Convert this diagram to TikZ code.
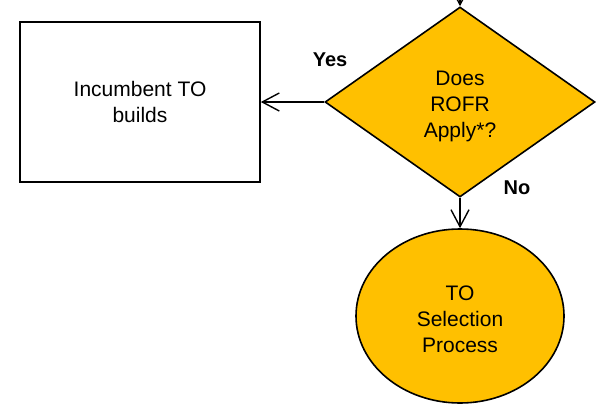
\documentclass[tikz,border=0pt]{standalone}
\usepackage{fontspec}
\setmainfont{Liberation Sans}
\usetikzlibrary{shapes.geometric,arrows.meta}
\definecolor{gold}{HTML}{FFC000}
\tikzset{
  txt/.style={align=center,font=\fontsize{21}{26}\selectfont},
  box/.style={draw,line width=1.6pt,inner sep=0pt,minimum width=240pt,minimum height=160pt,txt},
  decision/.style={diamond,draw,line width=1.6pt,fill=gold,inner sep=0pt,minimum width=270pt,minimum height=190pt,aspect=1.42},
  terminal/.style={ellipse,draw,line width=1.6pt,fill=gold,inner sep=0pt,minimum width=208pt,minimum height=174pt},
  conn/.style={line width=1.4pt,-{Straight Barb[length=17pt,width=18pt,line width=1.4pt]}},
  lbl/.style={font=\bfseries\fontsize{20}{22}\selectfont}
}
\begin{document}
\begin{tikzpicture}[x=1pt,y=-1pt]
\useasboundingbox (0,0) rectangle (596,404);
\node[box] (inc) at (140,102) {Incumbent TO\\builds};
\node[decision,label={[txt,yshift=-4pt]center:Does\\ROFR\\Apply*?}] (rofr) at (460,102) {};
\node[terminal,label={[txt,yshift=-3pt]center:TO\\Selection\\Process}] (sel) at (460,316) {};
\coordinate (in) at (460,-30);
\draw[conn] (in) -- (rofr.north);
\draw[conn] (rofr.west) -- (inc.east);
\draw[conn] (rofr.south) -- (sel.north);
\node[lbl] (yes) at (330,60) {Yes};
\node[lbl] (no) at (517,188) {No};
\end{tikzpicture}
\end{document}
